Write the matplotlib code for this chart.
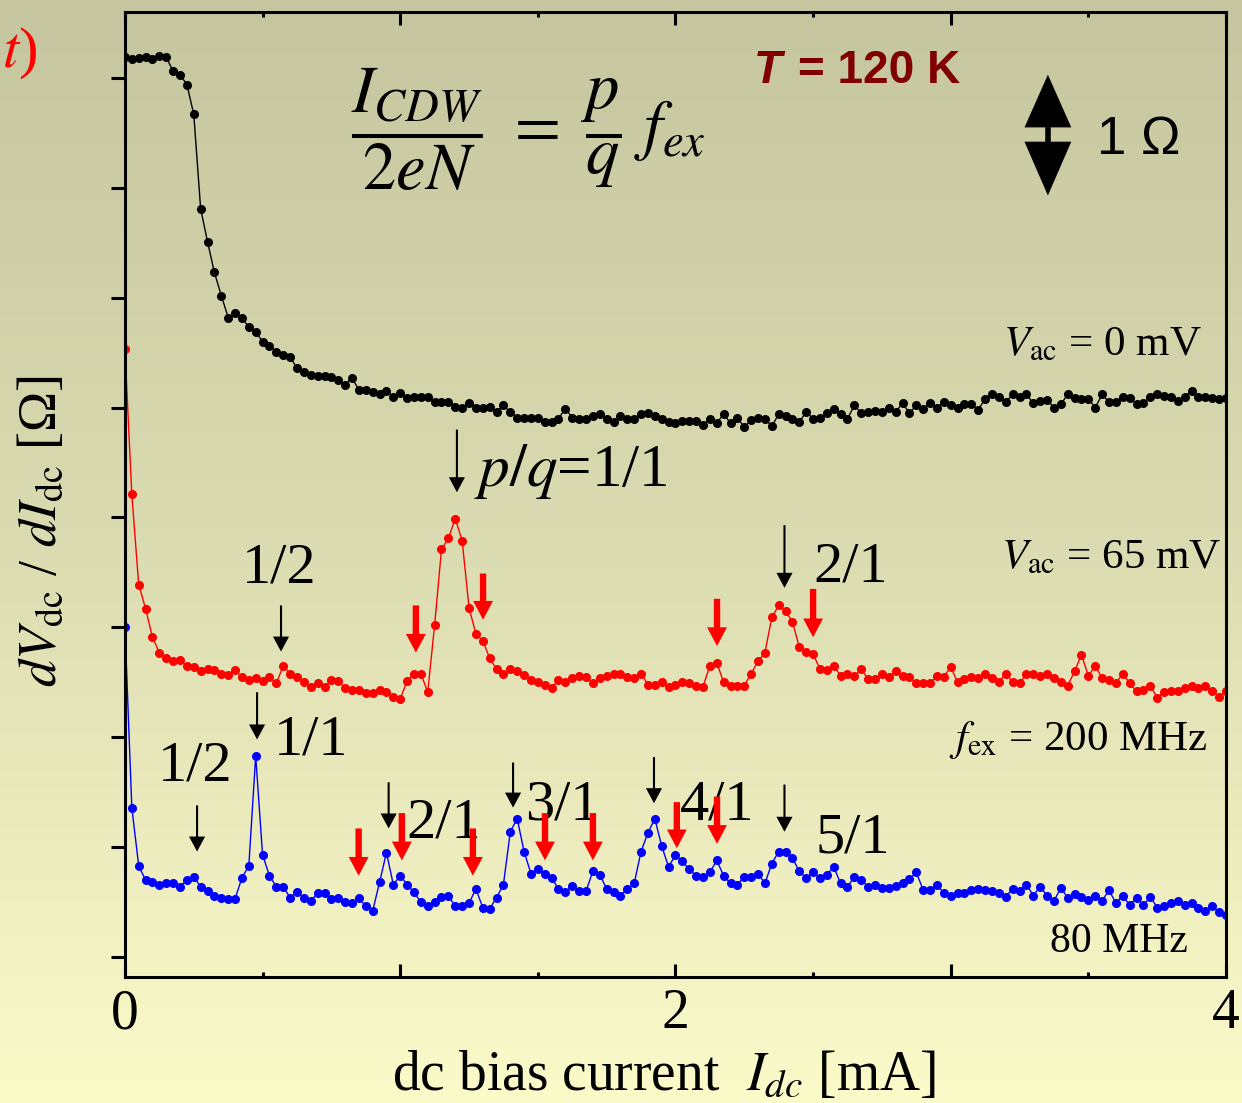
import numpy as np
import matplotlib
matplotlib.use("Agg")
import matplotlib.pyplot as plt
from matplotlib.colors import LinearSegmentedColormap
from matplotlib.patches import Polygon

plt.rcParams['font.family'] = ['Liberation Serif', 'DejaVu Serif']
plt.rcParams['mathtext.fontset'] = 'stix'

# dc bias current grid [mA], 0.025 mA steps
current = np.round(np.arange(161) * 0.025, 3)

# dV/dI [Ohm], curves already offset as in the figure
v0mV = [8.19, 8.17, 8.18, 8.19, 8.17, 8.20, 8.19, 8.06, 8.03, 7.94,
        7.67, 6.81, 6.51, 6.23, 6.02, 5.82, 5.86, 5.82, 5.73, 5.69,
        5.60, 5.56, 5.51, 5.48, 5.46, 5.36, 5.32, 5.30, 5.29, 5.29,
        5.28, 5.25, 5.21, 5.27, 5.16, 5.16, 5.14, 5.12, 5.15, 5.10,
        5.13, 5.09, 5.10, 5.10, 5.10, 5.05, 5.05, 5.05, 5.01, 5.00,
        5.04, 5.00, 5.00, 5.01, 4.96, 5.02, 4.96, 4.91, 4.91, 4.91,
        4.91, 4.87, 4.87, 4.90, 4.99, 4.91, 4.90, 4.90, 4.92, 4.94,
        4.90, 4.87, 4.92, 4.90, 4.90, 4.94, 4.95, 4.92, 4.90, 4.87,
        4.86, 4.88, 4.88, 4.88, 4.84, 4.90, 4.86, 4.94, 4.86, 4.91,
        4.82, 4.89, 4.91, 4.90, 4.83, 4.94, 4.92, 4.90, 4.87, 4.96,
        4.90, 4.91, 4.95, 4.99, 4.94, 4.90, 5.02, 4.95, 4.96, 4.97,
        4.96, 5.00, 4.96, 5.04, 4.95, 5.02, 4.99, 5.04, 5.00, 5.05,
        5.02, 5.00, 5.03, 5.03, 4.98, 5.08, 5.12, 5.10, 5.05, 5.12,
        5.10, 5.12, 5.04, 5.06, 5.07, 5.00, 5.03, 5.12, 5.09, 5.08,
        5.08, 5.00, 5.12, 5.05, 5.05, 5.10, 5.09, 5.03, 5.04, 5.10,
        5.12, 5.11, 5.10, 5.06, 5.10, 5.15, 5.10, 5.10, 5.09, 5.08,
        5.09]

v65mV = [5.53, 4.21, 3.39, 3.17, 2.91, 2.77, 2.72, 2.69, 2.70, 2.65,
         2.64, 2.60, 2.62, 2.61, 2.58, 2.57, 2.61, 2.55, 2.52, 2.54,
         2.51, 2.55, 2.49, 2.65, 2.58, 2.55, 2.50, 2.46, 2.49, 2.46,
         2.52, 2.51, 2.45, 2.43, 2.43, 2.40, 2.40, 2.43, 2.41, 2.37,
         2.35, 2.51, 2.58, 2.58, 2.41, 3.02, 3.71, 3.81, 3.99, 3.79,
         3.18, 2.94, 2.88, 2.72, 2.62, 2.58, 2.62, 2.60, 2.57, 2.52,
         2.50, 2.48, 2.45, 2.52, 2.50, 2.54, 2.56, 2.55, 2.49, 2.54,
         2.56, 2.58, 2.58, 2.55, 2.54, 2.58, 2.48, 2.48, 2.50, 2.46,
         2.48, 2.50, 2.49, 2.47, 2.46, 2.65, 2.68, 2.50, 2.47, 2.47,
         2.47, 2.58, 2.69, 2.77, 3.09, 3.20, 3.15, 3.05, 2.82, 2.78,
         2.76, 2.62, 2.61, 2.65, 2.56, 2.58, 2.56, 2.62, 2.53, 2.53,
         2.58, 2.55, 2.60, 2.56, 2.55, 2.49, 2.49, 2.49, 2.56, 2.55,
         2.64, 2.50, 2.53, 2.55, 2.54, 2.58, 2.54, 2.50, 2.58, 2.50,
         2.49, 2.58, 2.58, 2.56, 2.58, 2.54, 2.50, 2.47, 2.60, 2.75,
         2.56, 2.65, 2.54, 2.52, 2.49, 2.58, 2.49, 2.42, 2.43, 2.47,
         2.36, 2.41, 2.42, 2.42, 2.45, 2.47, 2.45, 2.47, 2.42, 2.37,
         2.42]

f80MHz = [3.00, 1.36, 0.83, 0.70, 0.68, 0.66, 0.67, 0.67, 0.64, 0.70,
          0.73, 0.64, 0.60, 0.56, 0.54, 0.53, 0.53, 0.72, 0.83, 1.83,
          0.93, 0.74, 0.64, 0.64, 0.54, 0.59, 0.54, 0.51, 0.58, 0.58,
          0.53, 0.54, 0.50, 0.49, 0.54, 0.46, 0.42, 0.68, 0.95, 0.66,
          0.74, 0.66, 0.59, 0.50, 0.46, 0.50, 0.55, 0.56, 0.46, 0.46,
          0.49, 0.62, 0.45, 0.44, 0.54, 0.66, 1.14, 1.26, 0.96, 0.76,
          0.80, 0.76, 0.72, 0.62, 0.59, 0.65, 0.60, 0.60, 0.78, 0.75,
          0.62, 0.59, 0.56, 0.62, 0.67, 0.96, 1.13, 1.26, 1.01, 0.82,
          0.93, 0.87, 0.80, 0.74, 0.73, 0.77, 0.88, 0.74, 0.67, 0.66,
          0.73, 0.73, 0.76, 0.67, 0.85, 0.96, 0.96, 0.90, 0.78, 0.72,
          0.77, 0.72, 0.75, 0.82, 0.67, 0.64, 0.73, 0.70, 0.64, 0.66,
          0.63, 0.63, 0.65, 0.67, 0.71, 0.77, 0.61, 0.61, 0.66, 0.58,
          0.56, 0.58, 0.58, 0.61, 0.62, 0.61, 0.60, 0.58, 0.55, 0.62,
          0.60, 0.66, 0.56, 0.64, 0.56, 0.51, 0.63, 0.54, 0.57, 0.55,
          0.52, 0.56, 0.51, 0.61, 0.49, 0.56, 0.47, 0.54, 0.47, 0.55,
          0.45, 0.46, 0.49, 0.51, 0.47, 0.49, 0.45, 0.42, 0.46, 0.41,
          0.38]

# mode-locking labels: (text, x, baseline y)
step_labels = [("1/2", 0.425, 3.41), ("2/1", 2.50, 3.42),
               ("1/2", 0.12, 1.61), ("1/1", 0.541, 1.84), ("2/1", 1.021, 1.09),
               ("3/1", 1.453, 1.25), ("4/1", 2.016, 1.25), ("5/1", 2.507, 0.95)]
# black arrows (x, tail y, tip y)
black_arrows = [(0.567, 3.20, 2.78), (1.206, 4.80, 4.23), (2.396, 3.93, 3.36),
                (0.262, 1.38, 0.96), (0.480, 2.41, 1.98), (0.958, 1.59, 1.17),
                (1.410, 1.77, 1.36), (1.922, 1.82, 1.40), (2.396, 1.57, 1.14)]
# red arrows (subharmonic steps)
red_arrows = [(1.057, 3.20, 2.77), (1.301, 3.49, 3.07), (2.151, 3.26, 2.83),
              (2.500, 3.35, 2.91),
              (0.849, 1.17, 0.74), (1.006, 1.31, 0.88), (1.264, 1.17, 0.74),
              (1.526, 1.31, 0.88), (1.700, 1.31, 0.88), (2.005, 1.41, 0.99),
              (2.151, 1.46, 1.03)]

fig = plt.figure(figsize=(12.42, 11.03), dpi=100)

# gradient background over whole figure
bg = fig.add_axes([0, 0, 1, 1], zorder=-10)
cmap = LinearSegmentedColormap.from_list('bg', ['#c5c59f', '#dcdcb2', '#fbfac9'])
bg.imshow(np.linspace(0, 1, 256)[:, None], aspect='auto', cmap=cmap, extent=[0, 1, 0, 1])
bg.axis('off')

ax = fig.add_axes([0.1006, 0.1142, 0.8865, 0.8749])
ax.set_facecolor('none')

ax.plot(current, v0mV, '-o', color='black', lw=1.0, ms=5.5)
ax.plot(current, v65mV, '-o', color='#ff0000', lw=1.0, ms=5.5)
ax.plot(current, f80MHz, '-o', color='#0000ff', lw=1.0, ms=5.5)

ax.set_xlim(0, 4)
ax.set_ylim(-0.182, 8.6)
ax.set_xticks([0, 1, 2, 3, 4])
ax.set_xticklabels(['0', '', '2', '', '4'], fontsize=40)
ax.set_xticks(np.arange(0, 4.01, 0.5), minor=True)
ax.set_yticks(range(9))
ax.tick_params(axis='x', which='major', direction='in', top=True, length=9.5, width=2.2, pad=8)
ax.tick_params(axis='x', which='minor', direction='in', top=True, length=3.8, width=2.2)
ax.tick_params(axis='y', direction='out', left=True, right=False, labelleft=False, length=10, width=2.2)
for s in ax.spines.values():
    s.set_linewidth(2.2)

for txt, x, y in step_labels:
    ax.text(x, y, txt, fontsize=42, ha='left', va='baseline')
ax.text(1.268, 4.29, r'$p/q$=1/1', fontsize=44, ha='left', va='baseline')

for x, y0, y1 in black_arrows:
    ax.annotate('', xy=(x, y1), xytext=(x, y0),
                arrowprops=dict(arrowstyle='simple,head_length=0.54,head_width=0.58,tail_width=0.075',
                                mutation_scale=20, fc='black', ec='none', shrinkA=0, shrinkB=0))
for x, y0, y1 in red_arrows:
    ax.annotate('', xy=(x, y1), xytext=(x, y0),
                arrowprops=dict(arrowstyle='simple,head_length=0.5,head_width=0.53,tail_width=0.17',
                                mutation_scale=27, fc='#ff0000', ec='none', shrinkA=0, shrinkB=0))

ax.text(3.913, 5.48, r'$V_{\rm ac}$ = 0 mV', fontsize=31, ha='right', va='baseline')
ax.text(3.985, 3.54, r'$V_{\rm ac}$ = 65 mV', fontsize=31, ha='right', va='baseline')
ax.text(3.935, 1.884, r'$f_{\rm ex}$ = 200 MHz', fontsize=31, ha='right', va='baseline')
ax.text(3.862, 0.045, '80 MHz', fontsize=30, ha='right', va='baseline')

# 1 Ohm scale bar
sx, sy = 3.353, 7.48
ax.add_patch(Polygon([(sx - 0.085, sy + 0.07), (sx + 0.085, sy + 0.07), (sx, sy + 0.55)],
                     closed=True, fc='black', ec='none'))
ax.add_patch(Polygon([(sx - 0.085, sy - 0.06), (sx + 0.085, sy - 0.06), (sx, sy - 0.55)],
                     closed=True, fc='black', ec='none'))
ax.plot([sx, sx], [sy - 0.06, sy + 0.07], color='black', lw=4)
ax.text(3.53, 7.31, '1 Ω', fontsize=38, family='Liberation Sans', ha='left', va='baseline')

ax.text(2.286, 7.95, 'T', fontsize=33, family='Liberation Sans', weight='bold', style='italic',
        color='#800000', ha='left', va='baseline')
ax.text(3.033, 7.95, '= 120 K', fontsize=33, family='Liberation Sans', weight='bold',
        color='#800000', ha='right', va='baseline')

fig.text(0.425, 0.883, r'$\dfrac{I_{CDW}}{2eN}\ =\ \dfrac{p}{q}\ f_{ex}$', fontsize=48,
         ha='center', va='center')

fig.text(0.5346, 1 - 1090 / 1103, r'dc bias current  $I_{dc}$ [mA]', fontsize=40,
         ha='center', va='baseline')
fig.text(0.034, 0.518, r'$dV_{\rm dc}$ / $dI_{\rm dc}$ [Ω]', fontsize=39, rotation=90,
         ha='center', va='center')
fig.text(0.002, 0.939, r'$t$)', fontsize=42, color='#ff0000', ha='left', va='baseline')

fig.savefig('out.png', dpi=100)
